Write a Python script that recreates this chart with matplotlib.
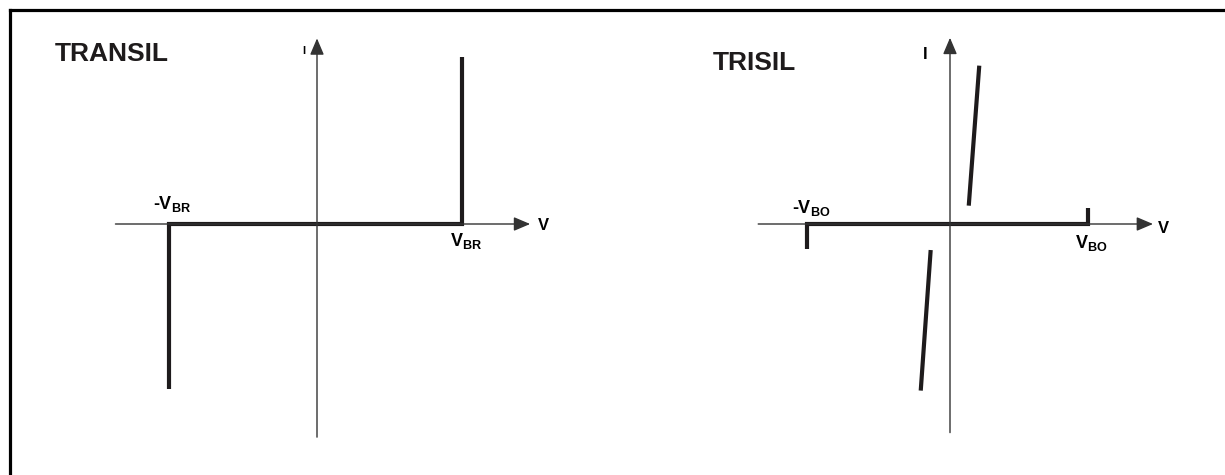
import matplotlib.pyplot as plt
from matplotlib.lines import Line2D

plt.rcParams['font.family'] = ['Liberation Sans', 'DejaVu Sans']
plt.rcParams['mathtext.fontset'] = 'custom'
plt.rcParams['mathtext.rm'] = 'Liberation Sans'
plt.rcParams['mathtext.bf'] = 'Liberation Sans:bold'

# TRANSIL characteristic (V in units of V_BR)
transil_v = [-1.02, -1.02, 1.0, 1.0]
transil_i = [-1.14, 0.0, 0.0, 1.15]
transil_vaxis = [-1.39, 1.47]
transil_iaxis = [-1.47, 1.28]

# TRISIL characteristic
trisil_v = [-1.02, -1.02, 0.986, 0.986]
trisil_i = [-0.179, 0.0, 0.0, 0.114]
trisil_up_v = [0.134, 0.209]
trisil_up_i = [0.131, 1.131]
trisil_dn_v = [-0.209, -0.138]
trisil_dn_i = [-1.19, -0.186]
trisil_vaxis = [-1.37, 1.45]
trisil_iaxis = [-1.49, 1.33]

W, H = 1225, 475
fig = plt.figure(figsize=(W / 100, H / 100), dpi=100)

# frame (top and left only)
fig.add_artist(Line2D([10 / W, 1.0], [1 - 10 / H, 1 - 10 / H], color='black', lw=2.3))
fig.add_artist(Line2D([10 / W, 10 / W], [1 - 10 / H, 0.0], color='black', lw=2.3))

curve_col = '#1e1b1c'
axis_col = '#333333'


def panel(ox, oy, scale):
    ax = fig.add_axes([0, 0, 1, 1])
    ax.set_xlim(-ox / scale, (W - ox) / scale)
    ax.set_ylim(-(H - oy) / scale, oy / scale)
    ax.axis('off')
    ax.patch.set_alpha(0)
    return ax


def axes_arrows(ax, vaxis, iaxis):
    arrow = dict(arrowstyle='-|>,head_length=0.4,head_width=0.17',
                 mutation_scale=25, lw=1.0, color=axis_col,
                 shrinkA=0, shrinkB=0)
    ax.annotate('', xy=(vaxis[1], 0), xytext=(vaxis[0], 0), arrowprops=arrow)
    ax.annotate('', xy=(0, iaxis[1]), xytext=(0, iaxis[0]), arrowprops=arrow)


# ---- TRANSIL ----
ax1 = panel(317, 224, 145)
axes_arrows(ax1, transil_vaxis, transil_iaxis)
ax1.plot(transil_v, transil_i, color=curve_col, lw=3, solid_joinstyle='miter',
         solid_capstyle='butt')
fig.text(55 / W, 1 - 54 / H, 'TRANSIL', fontsize=19, fontweight='bold',
         ha='left', va='center', color='#1e1b1c')
ax1.text(-0.083, 1.19, 'I', fontsize=8, fontweight='bold', ha='right', va='center')
ax1.text(1.52, -0.01, 'V', fontsize=12, fontweight='bold', ha='left', va='center')
ax1.text(-1.13, 0.103, r'-$\mathbf{V_{BR}}$', fontsize=13, fontweight='bold',
         ha='left', va='baseline')
ax1.text(0.917, -0.152, r'$\mathbf{V_{BR}}$', fontsize=13, fontweight='bold',
         ha='left', va='baseline')

# ---- TRISIL ----
ax2 = panel(950, 224, 140)
axes_arrows(ax2, trisil_vaxis, trisil_iaxis)
ax2.plot(trisil_v, trisil_i, color=curve_col, lw=3, solid_joinstyle='miter',
         solid_capstyle='butt')
ax2.plot(trisil_up_v, trisil_up_i, color=curve_col, lw=3, solid_capstyle='butt')
ax2.plot(trisil_dn_v, trisil_dn_i, color=curve_col, lw=3, solid_capstyle='butt')
fig.text(713 / W, 1 - 63 / H, 'TRISIL', fontsize=19, fontweight='bold',
         ha='left', va='center', color='#1e1b1c')
ax2.text(-0.164, 1.214, 'I', fontsize=12, fontweight='bold', ha='right', va='center')
ax2.text(1.486, -0.029, 'V', fontsize=12, fontweight='bold', ha='left', va='center')
ax2.text(-1.129, 0.079, r'-$\mathbf{V_{BO}}$', fontsize=13, fontweight='bold',
         ha='left', va='baseline')
ax2.text(0.893, -0.171, r'$\mathbf{V_{BO}}$', fontsize=13, fontweight='bold',
         ha='left', va='baseline')

fig.savefig('out.png', dpi=100)
